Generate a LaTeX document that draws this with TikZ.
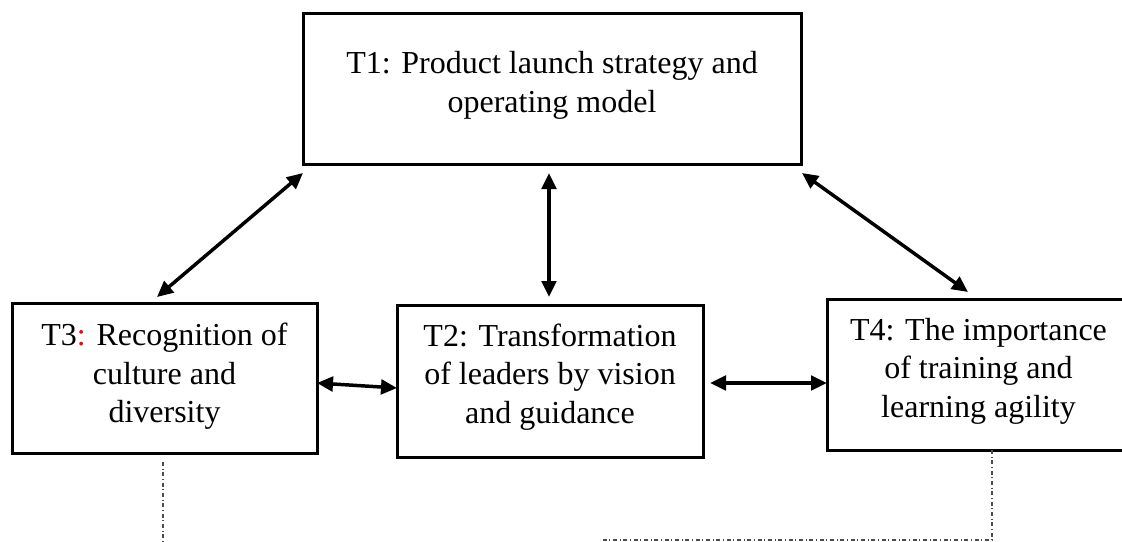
\documentclass[tikz,border=0pt]{standalone}
\usepackage{fontspec}
\setmainfont{Liberation Serif}
\usetikzlibrary{arrows.meta,calc,fit}
\begin{document}
\begin{tikzpicture}[x=0.75pt,y=-0.75pt,
  box/.style={draw=black,line width=2.25pt,inner sep=0pt,outer sep=0pt,rectangle},
  lbl/.style={align=center,inner sep=0pt,font=\fontsize{24}{28.9}\selectfont},
  tip/.tip={Triangle[length=12pt,width=11pt]},
  link/.style={line width=2.6pt,tip-tip},
  trace/.style={draw=black!70,line width=0.85pt,dash pattern=on 3pt off 2pt on 0.75pt off 2pt}]
  \useasboundingbox (0,0) rectangle (1122,542);
  \clip (0,0) rectangle (1122,542);

  % theme boxes
  \node[box,fit={(303,14) (801,164)}]  (t1) {};
  \node[box,fit={(397,305) (703,457)}] (t2) {};
  \node[box,fit={(12,303) (317,453)}]  (t3) {};
  \node[box,fit={(827,299) (1134,450)}] (t4) {};

  % theme labels
  \node[lbl] (t1txt) at (552,85.5) {T1: Product launch strategy and\\operating model};
  \node[lbl] (t2txt) at (550,377) {T2: Transformation\\of leaders by vision\\and guidance};
  \node[lbl] (t3txt) at (164.5,376.5) {T3{\color{red}:} Recognition of\\culture and\\diversity};
  \node[lbl] (t4txt) at (978.5,371) {T4: The importance\\of training and\\learning agility};

  % two-way links between themes
  \draw[link] ($(t1.south west)+(0,9)$) -- ($(t3.north west)+(145,-6)$);
  \draw[link] ($(t1.south)+(-3,9)$) -- ($(t2.north)+(-1,-8)$);
  \draw[link] ($(t1.south east)+(1,9)$) -- ($(t4.north west)+(141,-7)$);
  \draw[link] ($(t3.north east)+(0,80)$) -- ($(t2.north west)+(0,83)$);
  \draw[link] ($(t2.north east)+(7,78)$) -- ($(t4.north west)+(0,84)$);

  % dash-dot leader lines running off the bottom
  \coordinate (t3end) at (163,546);
  \coordinate (t4corner) at (992,540);
  \coordinate (t4end) at (600,540);
  \draw[trace] ($(t3.south)+(-1.5,9)$) -- (t3end);
  \draw[trace] ($(t4.south west)+(165,0)$) -- (t4corner) -- (t4end);
\end{tikzpicture}
\end{document}
